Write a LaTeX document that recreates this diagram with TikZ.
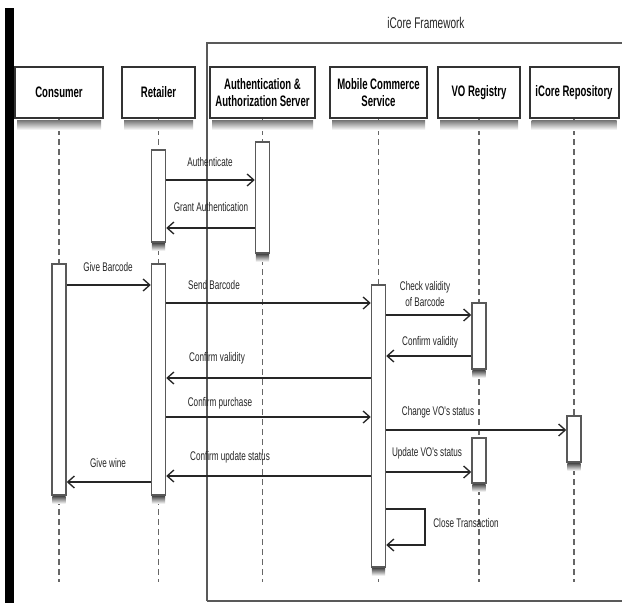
\documentclass[tikz,border=0pt]{standalone}
\usepackage{fontspec}
\newfontfamily\headfont[FakeStretch=0.63]{Liberation Sans}
\newfontfamily\labfont[FakeStretch=0.65]{Liberation Sans}
\usetikzlibrary{arrows.meta,calc}
\begin{document}
\begin{tikzpicture}[x=0.75pt,y=-0.75pt,
  head/.style={draw=black!80, line width=1.5pt, fill=white, minimum height=38.25pt,
    inner sep=1pt, align=center, font=\headfont\bfseries\fontsize{11.4}{12.8}\selectfont},
  actbar/.style={draw=black!65, line width=1.1pt, fill=white, minimum width=10.5pt, inner sep=0pt},
  lifeline/.style={draw=black!60, line width=0.8pt, dash pattern=on 4.5pt off 3pt},
  msg/.style={draw=black!85, line width=1pt, -{Straight Barb[length=5pt,width=9pt]}},
  lbl/.style={font=\labfont\fontsize{9.4}{12}\selectfont, text=black!85, inner sep=0pt, align=center},
  frame/.style={draw=black!65, line width=1pt},
  headshadow/.style={top color=black!55, bottom color=white},
  barshadow/.style={top color=black!65, bottom color=white}
]
\useasboundingbox[fill=white] (0,0) rectangle (622,603);

% left margin bar
\fill[black] (5,8) rectangle (14,603);

% framework boundary
\draw[frame] (207,601) -- (207,43) -- (622,43);
\draw[frame] (207,601) -- (622,601);
\node[lbl, font=\labfont\fontsize{11.6}{13}\selectfont] (fwlabel) at (426,23) {iCore Framework};

% participants
\node[head, minimum width=66pt]    (consumer) at (59,92.5)    {Consumer};
\node[head, minimum width=54.75pt] (retailer) at (158.5,92.5) {Retailer};
\node[head, minimum width=78.75pt] (auth)     at (262.5,92.5) {Authentication \&\\Authorization Server};
\node[head, minimum width=72.75pt] (mcs)      at (378.5,92.5) {Mobile Commerce\\Service};
\node[head, minimum width=61.5pt]  (vo)       at (479,92.5)   {VO Registry};
\node[head, minimum width=66.75pt] (repo)     at (574,92.5)   {iCore Repository};

% lifelines
\foreach \p in {consumer,retailer,auth,mcs,vo,repo}
  \draw[lifeline] (\p.south) -- (\p.south |- 0,582);

% header shadows
\foreach \p in {consumer,retailer,auth,mcs,vo,repo}
  \shade[headshadow] ($(\p.south west)+(3,1)$) rectangle ($(\p.south east)+(-3,11)$);

% activation bars
\node[actbar, minimum height=69pt]     (r1) at (retailer.south |- 0,196)  {};
\node[actbar, minimum height=83.25pt]  (a1) at (auth.south |- 0,197.5)    {};
\node[actbar, minimum height=173.25pt] (c1) at (consumer.south |- 0,379.5) {};
\node[actbar, minimum height=173.25pt] (r2) at (retailer.south |- 0,379.5) {};
\node[actbar, minimum height=211.5pt]  (m1) at (mcs.south |- 0,426)       {};
\node[actbar, minimum height=49.5pt]   (v1) at (vo.south |- 0,336)        {};
\node[actbar, minimum height=33.75pt]  (v2) at (vo.south |- 0,460.5)      {};
\node[actbar, minimum height=34.5pt]   (i1) at (repo.south |- 0,439)      {};

\foreach \b in {r1,a1,c1,r2,m1,v1,v2,i1}
  \shade[barshadow] ($(\b.south west)+(1,1)$) rectangle ($(\b.south east)+(-1,8)$);

% messages
\draw[msg] (r1.east |- 0,180) -- (a1.west |- 0,180);
\node[lbl] (l1) at (210,162) {Authenticate};
\draw[msg] (a1.west |- 0,228) -- (r1.east |- 0,228);
\node[lbl] (l2) at (211,207) {Grant Authentication};

\draw[msg] (c1.east |- 0,285) -- (r2.west |- 0,285);
\node[lbl] (l3) at (108,267) {Give Barcode};
\draw[msg] (r2.east |- 0,303) -- (m1.west |- 0,303);
\node[lbl] (l4) at (214,285) {Send Barcode};

\draw[msg] (m1.east |- 0,315) -- (v1.west |- 0,315);
\node[lbl] (l5) at (425,294) {Check validity\\of Barcode};
\draw[msg] (v1.west |- 0,356) -- (m1.east |- 0,356);
\node[lbl] (l6) at (430,342) {Confirm validity};

\draw[msg] (m1.west |- 0,378) -- (r2.east |- 0,378);
\node[lbl] (l7) at (217,358) {Confirm validity};
\draw[msg] (r2.east |- 0,417) -- (m1.west |- 0,417);
\node[lbl] (l8) at (220,403) {Confirm purchase};

\draw[msg] (m1.east |- 0,430) -- (i1.west |- 0,430);
\node[lbl] (l9) at (438,412) {Change VO's status};
\draw[msg] (m1.east |- 0,472) -- (v2.west |- 0,472);
\node[lbl] (l10) at (427,453) {Update VO's status};

\draw[msg] (m1.west |- 0,476) -- (r2.east |- 0,476);
\node[lbl] (l11) at (230,457) {Confirm update status};
\draw[msg] (r2.west |- 0,482) -- (c1.east |- 0,482);
\node[lbl] (l12) at (108,463) {Give wine};

% self call
\coordinate (loopcorner) at (425,545);
\draw[msg] (m1.east |- 0,509) -| (loopcorner) -- (m1.east |- loopcorner);
\node[lbl] (l13) at (466,523) {Close Transaction};
\end{tikzpicture}
\end{document}
